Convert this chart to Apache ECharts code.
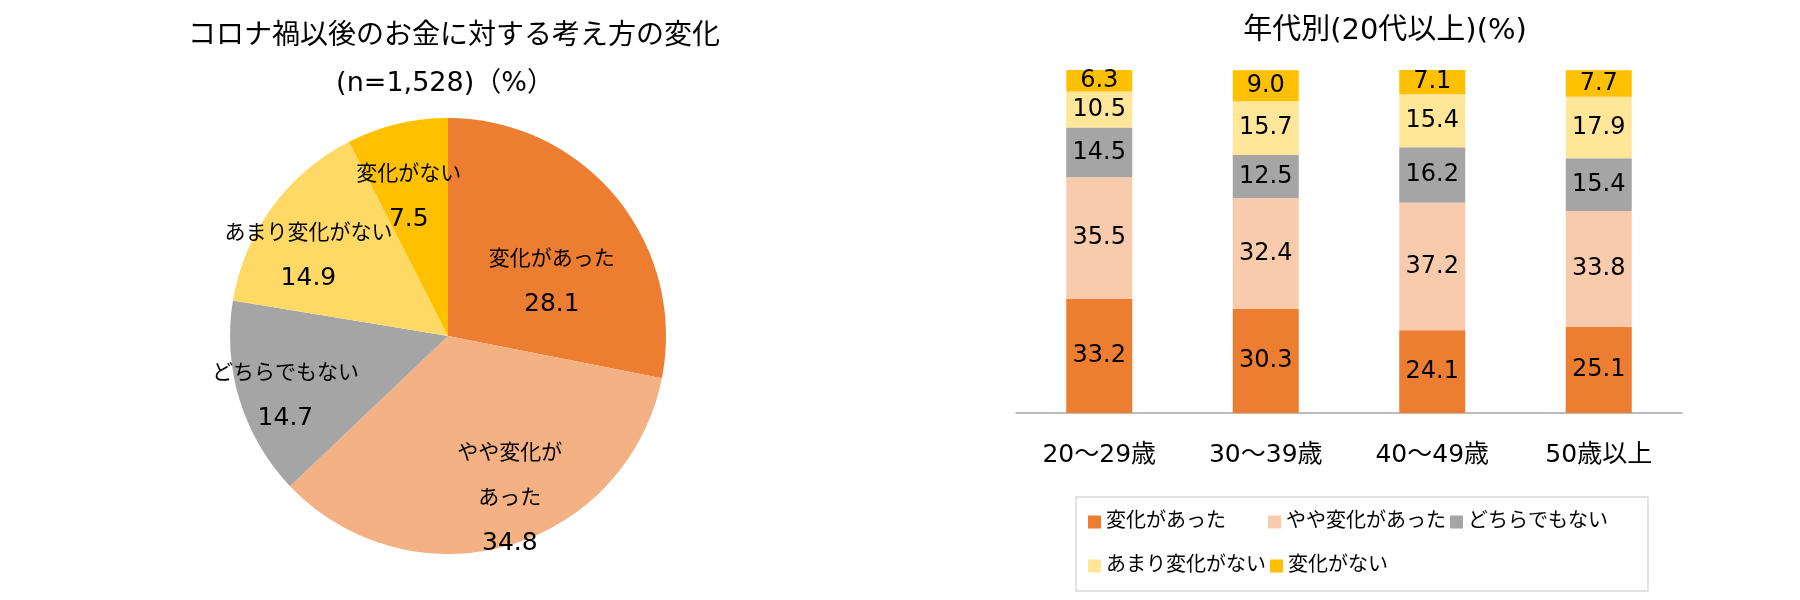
<!DOCTYPE html>
<html lang="ja">
<head>
    <meta charset="UTF-8">
    <title>コロナ禍以後のお金に対する考え方の変化</title>
    <style>
        html, body {
            margin: 0;
            padding: 0;
            background: #fff;
        }
        #chart {
            width: 1800px;
            height: 600px;
        }
    </style>
</head>
<body>
<div id="chart"></div>
<script src="https://cdn.jsdelivr.net/npm/echarts@6/dist/echarts.min.js"></script>
<script>
    // 円グラフ（全体）
    var pieNames = ['変化があった', 'やや変化があった', 'どちらでもない', 'あまり変化がない', '変化がない'];
    var pieLabels = ['変化があった', 'やや変化が\nあった', 'どちらでもない', 'あまり変化がない', '変化がない'];
    var pieValues = [28.1, 34.8, 14.7, 14.9, 7.5];

    // 年代別（積み上げ棒）
    var ageGroups = ['20～29歳', '30～39歳', '40～49歳', '50歳以上'];
    var seriesNames = ['変化があった', 'やや変化があった', 'どちらでもない', 'あまり変化がない', '変化がない'];
    var changed = [33.2, 30.3, 24.1, 25.1];
    var somewhat = [35.5, 32.4, 37.2, 33.8];
    var neutral = [14.5, 12.5, 16.2, 15.4];
    var notMuch = [10.5, 15.7, 15.4, 17.9];
    var noChange = [6.3, 9.0, 7.1, 7.7];

    // 数字は幅広の DejaVu Sans、かなは Noto CJK にフォールバック
    var FONT = '"DejaVu Sans", "Noto Sans CJK JP", sans-serif';
    var pieColors = ['#ED7D31', '#F4B183', '#A5A5A5', '#FFD966', '#FFC000'];
    var barColors = ['#ED7D31', '#F8CBAD', '#A5A5A5', '#FFE699', '#FFC000'];
    var pieCenter = [448, 336];

    var myChart = echarts.init(document.getElementById('chart'));

    var barValues = [changed, somewhat, neutral, notMuch, noChange];
    var barSeries = barValues.map(function (vals, i) {
        return {
            name: seriesNames[i],
            type: 'bar',
            stack: 'total',
            barWidth: 66,
            data: vals,
            itemStyle: {color: barColors[i]},
            label: {
                show: true,
                position: 'inside',
                color: '#000',
                fontFamily: FONT,
                fontSize: 24,
                formatter: function (p) {
                    return p.value.toFixed(1);
                }
            }
        };
    });

    var option = {
        backgroundColor: '#fff',
        animation: false,
        textStyle: {fontFamily: FONT},
        graphic: [
            {
                type: 'text', x: 454, y: 37,
                style: {
                    text: 'コロナ禍以後のお金に対する考え方の変化',
                    font: '28px ' + FONT, fill: '#000',
                    textAlign: 'center', textVerticalAlign: 'middle'
                }
            },
            {
                type: 'text', x: 445, y: 84,
                style: {
                    text: '(n=1,528)（%）',
                    font: '27px ' + FONT, fill: '#000',
                    textAlign: 'center', textVerticalAlign: 'middle'
                }
            },
            {
                type: 'text', x: 1385, y: 31,
                style: {
                    text: '年代別(20代以上)(%)',
                    font: '29px ' + FONT, fill: '#000',
                    textAlign: 'center', textVerticalAlign: 'middle'
                }
            }
        ],
        legend: {
            data: seriesNames,
            left: 1076,
            top: 497,
            width: 545,
            orient: 'horizontal',
            padding: [5, 22, 5, 12],
            itemGap: 4,
            itemWidth: 13,
            itemHeight: 13,
            icon: 'rect',
            borderColor: '#D9D9D9',
            borderWidth: 1.5,
            textStyle: {
                fontFamily: FONT,
                fontSize: 20,
                color: '#000',
                width: 158,
                lineHeight: 40
            }
        },
        grid: {
            left: 1016,
            right: 118,
            top: 70,
            bottom: 187
        },
        xAxis: {
            type: 'category',
            data: ageGroups,
            axisLine: {lineStyle: {color: '#A6A6A6', width: 1.5}},
            axisTick: {show: false},
            axisLabel: {
                color: '#000',
                fontFamily: FONT,
                fontSize: 25,
                margin: 30
            }
        },
        yAxis: {
            type: 'value',
            min: 0,
            max: 100,
            show: false,
            splitLine: {show: false}
        },
        series: [
            {
                name: 'pie',
                type: 'pie',
                center: pieCenter,
                radius: 218,
                startAngle: 90,
                clockwise: true,
                legendHoverLink: false,
                data: pieNames.map(function (n, i) {
                    return {name: n, value: pieValues[i], itemStyle: {color: pieColors[i]}};
                }),
                label: {
                    show: true,
                    position: 'inside',
                    color: '#000',
                    fontFamily: FONT,
                    formatter: function (p) {
                        var lines = pieLabels[p.dataIndex].split('\n').map(function (s) {
                            return '{t|' + s + '}';
                        });
                        return lines.join('\n') + '\n{v|' + p.value.toFixed(1) + '}';
                    },
                    rich: {
                        t: {fontFamily: FONT, fontSize: 21, lineHeight: 45, color: '#000'},
                        v: {fontFamily: FONT, fontSize: 25, lineHeight: 45, color: '#000'}
                    }
                },
                labelLine: {show: false},
                // Excel の「最適な位置」に近づけるためのラベル位置の微調整
                labelLayout: function (params) {
                    var nudge = [[0, 30], [15, 0], [-2, 9], [-4, 18], [0, 23]][params.dataIndex];
                    var r = params.labelRect;
                    var cx = r.x + r.width / 2;
                    var cy = r.y + r.height / 2;
                    var k = params.dataIndex === 0 ? 1.2 : 1.5;
                    return {
                        x: pieCenter[0] + (cx - pieCenter[0]) * k + nudge[0],
                        y: pieCenter[1] + (cy - pieCenter[1]) * k + nudge[1],
                        align: 'center',
                        verticalAlign: 'middle'
                    };
                }
            }
        ].concat(barSeries)
    };

    myChart.setOption(option);
</script>
</body>
</html>
